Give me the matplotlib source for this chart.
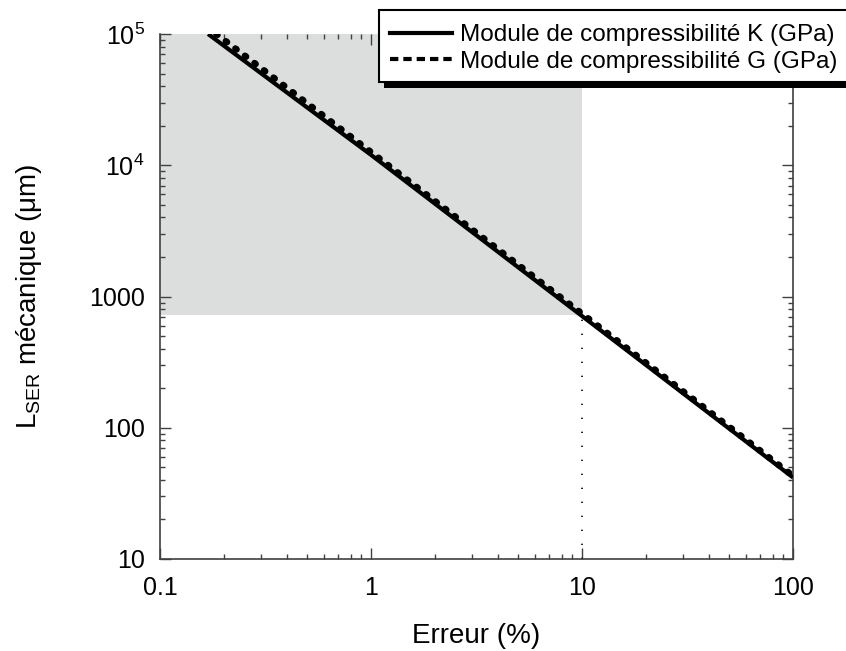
import matplotlib
matplotlib.use("Agg")
import matplotlib.pyplot as plt
from matplotlib.lines import Line2D
from matplotlib.patches import Rectangle
from matplotlib.ticker import FixedLocator, FixedFormatter, LogLocator, NullFormatter

plt.rcParams['font.family'] = ['Liberation Sans', 'DejaVu Sans']
plt.rcParams['mathtext.default'] = 'regular'

# Data
err_K = [0.169, 1, 10, 100]
L_K = [100000, 12000, 710, 41.8]
err_G = [0.185, 1, 10, 100]
L_G = [100000, 12600, 740, 43.0]
shade_x = [0.1, 10]
shade_y = [720, 100000]
limit_x = 10
limit_y = [10, 720]

x_ticks = [0.1, 1, 10, 100]
x_ticklabels = ['0.1', '1', '10', '100']
y_ticks = [10, 100, 1000, 1e4, 1e5]
y_ticklabels = ['10', '100', '1000', '$10^4$', '$10^5$']
labels = ['Module de compressibilité K (GPa)', 'Module de compressibilité G (GPa)']

W, H = 846, 651
fig = plt.figure(figsize=(W / 100, H / 100), dpi=100)
ax = fig.add_axes([160 / W, 1 - 559 / H, (793 - 160) / W, (559 - 34) / H])
ax.set_xscale('log')
ax.set_yscale('log')
ax.set_xlim(0.1, 100)
ax.set_ylim(10, 1e5)

ax.fill_between(shade_x, shade_y[0], shade_y[1], color='#dcdddd', lw=0, zorder=1)
ax.plot([limit_x, limit_x], limit_y, color='black', lw=1.2,
        linestyle=(0, (0.8, 7.6)), zorder=2)
ax.plot(err_K, L_K, color='black', lw=3.0, solid_capstyle='butt', zorder=3)
ax.plot(err_G, L_G, color='black', lw=4.8, linestyle=(0, (0.2, 1.6)),
        dash_capstyle='round', zorder=3)

spine_c = '#404040'
for s in ax.spines.values():
    s.set_color(spine_c)
    s.set_linewidth(1.2)
ax.spines['top'].set_visible(False)

ax.xaxis.set_major_locator(FixedLocator(x_ticks))
ax.xaxis.set_major_formatter(FixedFormatter(x_ticklabels))
ax.yaxis.set_major_locator(FixedLocator(y_ticks))
ax.yaxis.set_major_formatter(FixedFormatter(y_ticklabels))
ax.xaxis.set_minor_locator(LogLocator(base=10, subs=range(2, 10), numticks=20))
ax.yaxis.set_minor_locator(LogLocator(base=10, subs=range(2, 10), numticks=20))
ax.xaxis.set_minor_formatter(NullFormatter())
ax.yaxis.set_minor_formatter(NullFormatter())
ax.tick_params(which='both', direction='in', top=True, right=True,
               color=spine_c, width=1.0, labelsize=18)
ax.tick_params(which='major', length=8)
ax.tick_params(which='minor', length=3.6)
ax.tick_params(axis='x', which='major', pad=12)
ax.tick_params(axis='y', which='major', pad=11)

ax.set_xlabel('Erreur (%)', fontsize=20, labelpad=17)
ax.set_ylabel('L$_{SER}$ mécanique (μm)', fontsize=20, labelpad=32)

# Legend: frameless entries, manual frame and shadow
handles = [Line2D([], [], color='black', lw=3.0),
           Line2D([], [], color='black', lw=3.0, linestyle=(0, (2.0, 1.2)))]
leg = fig.legend(handles, labels, loc='upper left',
                 bbox_to_anchor=(390 / W, 1 - 24 / H),
                 fontsize=17.5, frameon=False, borderpad=0, labelspacing=0.2,
                 handlelength=2.55, handletextpad=0.33, borderaxespad=0)
leg.set_zorder(7)

box_left, box_top, box_bottom = 379, 10, 82
frame = Rectangle((box_left, H - box_bottom), W + 20 - box_left, box_bottom - box_top,
                  transform=None, facecolor='white', edgecolor='black', lw=1.5, zorder=6)
shadow = Rectangle((box_left + 5, H - box_bottom - 6), W + 20 - box_left, box_bottom - box_top,
                   transform=None, facecolor='black', edgecolor='none', zorder=5)
fig.patches.extend([shadow, frame])

fig.savefig('out.png', dpi=100)
